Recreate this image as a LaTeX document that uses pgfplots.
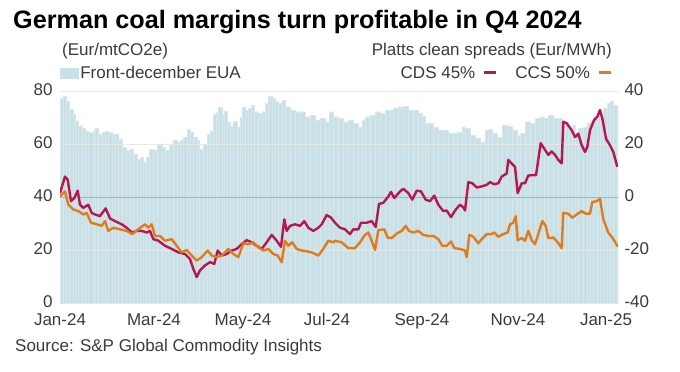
\documentclass[border=0pt]{standalone}
\usepackage{fontspec}
\setmainfont{Liberation Sans}
\usepackage{pgfplots}
\pgfplotsset{compat=1.18}
\definecolor{eua}{HTML}{C9E0E6}
\definecolor{cds}{HTML}{B5174F}
\definecolor{ccs}{HTML}{E07C1E}
\definecolor{txt}{HTML}{3A3A3A}
\definecolor{gridc}{HTML}{E6E8E8}
\definecolor{zeroc}{HTML}{A9B4B7}

% x = horizontal position along the time axis (Jan-24 ... Jan-25), left axis: EUA (Eur/mtCO2e)
\pgfplotstableread{
x y
60 77.2
63 78.2
66 76.3
69 73.1
73 71.3
75 68.8
78 66.9
82 65.9
85 65.0
88 64.4
93 65.0
95 65.9
98 63.8
102 64.4
105 64.7
108 64.4
112 63.8
115 63.8
118 61.9
122 58.7
126 57.5
130 58.1
133 56.2
137 54.3
140 54.9
143 53.0
146 54.9
149 58.1
153 57.5
157 60.0
162 58.7
165 57.5
169 59.4
173 61.3
177 60.6
180 61.3
183 62.5
187 65.7
190 64.4
193 62.5
197 61.3
199 58.1
203 60.0
207 63.8
210 65.0
213 71.3
216 71.9
218 73.8
222 71.3
224 72.5
227 68.1
230 66.7
233 68.6
237 66.5
240 70.0
242 74.1
245 72.8
248 73.4
251 74.7
254 72.2
258 71.6
262 72.2
265 75.4
268 77.9
272 77.2
275 76.0
278 75.4
282 76.6
285 74.1
290 72.8
295 72.2
300 72.2
305 70.3
310 70.9
315 69.0
320 69.6
325 68.4
329 72.2
333 70.3
338 69.6
343 68.4
348 69.0
353 67.8
358 66.5
362 69.0
365 70.3
370 70.9
375 72.2
380 71.6
385 72.8
390 72.8
393 73.4
398 74.1
403 74.3
408 72.8
413 72.8
418 71.8
422 70.5
425 67.8
428 67.8
433 66.5
438 65.3
443 65.3
448 64.2
453 64.0
457 64.6
462 66.5
465 65.9
470 63.4
475 62.1
480 60.8
485 65.3
488 65.5
492 64.0
497 62.7
502 67.2
507 66.8
512 65.3
517 63.4
520 64.0
525 68.4
530 67.8
535 69.7
540 70.3
544 69.7
548 70.9
553 69.7
558 69.7
562 68.4
565 68.4
568 66.5
572 67.2
575 64.6
578 65.9
583 66.5
587 67.8
590 68.4
593 70.3
597 71.6
600 71.6
603 73.4
607 75.4
610 76.0
613 74.7
617 73.4
618 73.4
}\euatable

% CDS 45% (Eur/MWh)
\pgfplotstableread{
x y
60 1.5
65 7.7
67.7 6.5
71 -1.6
74.3 -0.4
77.7 2.4
80 -2.9
83.3 -4.1
88.3 -2.9
91.7 -6.0
95 -6.6
100 -7.2
105.7 -4.3
110 -8.1
115 -9.1
121.7 -10.3
126.7 -11.6
131.7 -13.4
136.7 -12.8
141.7 -12.8
146.7 -13.4
150 -12.8
153.3 -15.9
158.3 -16.5
165 -18.4
171.7 -19.6
178.3 -20.9
185 -21.5
190 -23.4
193.3 -27.1
196.7 -30.2
200 -27.7
205 -25.8
210 -24.6
214.3 -25.2
217.7 -20.2
221.7 -22.1
226.7 -21.5
231.7 -20.2
236.7 -19.6
241.7 -17.8
246.7 -16.3
251.7 -17.1
256.7 -18.4
261.7 -19.6
266.7 -17.1
271.7 -14.3
276.7 -16.5
281 -18.8
284.3 -8.4
286.7 -12.8
290 -10.9
295 -10.3
300 -10.9
304.3 -9.1
308.3 -11.6
313.3 -12.8
318.3 -11.6
321.7 -10.3
326.7 -6.8
331 -7.8
335 -9.7
340 -11.6
345 -12.2
350 -14.0
353.3 -12.2
358.3 -12.2
361 -9.7
366.7 -9.7
371.7 -9.1
375.7 -11.3
379 -2.6
383.3 -2.2
388.3 0.2
391 1.9
394.3 -0.4
400 2.1
403.3 3.1
408.3 1.5
412.3 -1.0
416.7 2.4
421 2.1
425.7 -1.0
430 -1.6
434.3 0.5
438.3 -2.9
443.3 -5.3
446.7 -5.1
451 -7.6
455 -5.1
460 -2.9
463.3 -3.9
465 -5.1
468.3 5.6
472.3 5.2
476.7 3.6
481.7 4.0
486.7 4.6
490 5.6
494.3 4.8
498.3 5.2
501.7 7.7
506.7 8.9
508.3 14.0
512 12.5
515 11.4
517.7 1.5
521.7 5.2
525 5.2
528.3 8.1
533.3 8.3
536 8.2
540.7 20.3
545 17.8
548.3 15.9
551.7 17.2
555 15.9
558.3 14.0
561.7 12.7
563.3 28.4
566.7 27.8
571.7 25.2
575 22.6
578.3 23.9
581.7 19.5
585 17.0
587.3 18.9
590 25.2
594 29.0
597.3 30.3
600 32.8
602.7 29.0
606 22.0
610 19.5
613.3 17.0
617.3 11.4
}\cdstable

% CCS 50% (Eur/MWh)
\pgfplotstableread{
x y
60 0.2
65 2.1
68.3 -2.9
73.3 -4.7
78.3 -5.3
83.3 -6.6
86.7 -6.0
91 -9.7
96.7 -10.3
101.7 -10.9
105 -9.1
108.3 -12.8
113.3 -11.6
120 -12.2
126.7 -12.8
132.3 -14.0
138.3 -12.2
145 -10.3
148.3 -11.6
151.7 -10.3
155 -14.7
160 -14.7
165 -16.5
171.7 -15.9
176.7 -18.4
181.7 -20.9
186.7 -20.0
191.7 -22.1
196.7 -24.0
201.7 -22.7
207.7 -20.2
211.7 -22.1
216.7 -22.7
221.7 -22.1
228.3 -19.6
233.3 -21.5
238.3 -22.7
243.3 -17.5
248.3 -17.8
253.3 -17.1
258.3 -19.0
263.3 -20.2
268.3 -19.6
273.3 -21.5
277.7 -22.1
281.7 -24.6
285 -16.5
288.3 -18.4
292.3 -17.1
296.7 -19.6
301.7 -20.2
306.7 -20.5
311.7 -20.9
318.3 -22.1
323.3 -19.6
328.3 -16.5
333.3 -17.1
335 -16.5
341.7 -17.1
348.3 -19.3
355 -19.3
360 -17.1
365 -14.3
368.3 -13.4
371.7 -16.5
375 -20.0
378.3 -12.5
384.3 -12.2
387.7 -15.3
391.7 -15.5
396.7 -13.8
401.7 -12.8
405.7 -10.9
409 -12.8
413.3 -13.4
418.3 -12.8
423.3 -14.3
428.3 -14.7
433.3 -14.7
438.3 -15.9
442.3 -18.4
446.7 -18.4
451 -16.8
454.3 -19.3
460 -19.6
465 -20.2
466.7 -22.7
469.3 -14.3
473.3 -15.0
478.3 -17.5
481.7 -15.9
486.7 -14.0
491.7 -14.0
494.3 -13.4
498.3 -15.0
503.3 -14.0
507.7 -13.4
510 -10.3
513.3 -9.7
515.7 -7.2
517.7 -16.3
521.7 -15.5
525 -16.5
528.3 -12.8
531.7 -16.3
535 -17.8
538.3 -14.0
542.3 -9.1
545.7 -10.9
548.3 -15.5
553.3 -15.3
557.7 -17.1
561.7 -19.3
563.3 -6.0
568.3 -6.3
572.3 -7.8
576.7 -6.6
581.7 -5.3
585.7 -6.3
590 -6.3
592.3 -1.9
596.7 -1.6
600 -0.7
603.3 -8.4
608.3 -13.4
612.3 -15.3
618 -18.8
}\ccstable

\begin{document}
\begin{tikzpicture}[font=\fontsize{17}{20}\selectfont]
\useasboundingbox (0,0) rectangle (680pt,372pt);

\node[anchor=base west, inner sep=0pt, font=\fontsize{25.2}{28}\selectfont\bfseries, text=black] at (13pt,343pt) {German coal margins turn profitable in Q4 2024};
\node[anchor=base west, inner sep=0pt, text=txt] at (62pt,316pt) {(Eur/mtCO2e)};
\node[anchor=base east, inner sep=0pt, text=txt] at (612pt,316pt) {Platts clean spreads (Eur/MWh)};
\node[anchor=base west, inner sep=0pt, text=txt] at (15pt,20pt) {Source: S\&P Global Commodity Insights};

\begin{axis}[
  at={(60pt,69pt)}, anchor=south west,
  scale only axis, width=558pt, height=212pt,
  xmin=60, xmax=618, ymin=0, ymax=80,
  axis on top,
  axis line style={draw=none},
  major tick length=0pt,
  xtick={60,154,243,327,422,518,606},
  xticklabels={Jan-24,Mar-24,May-24,Jul-24,Sep-24,Nov-24,Jan-25},
  ytick={0,20,40,60,80},
  yticklabels={0,20,40,60,80},
  ymajorgrids,
  major grid style={gridc, line width=0.8pt},
  extra y ticks={40},
  extra y tick labels={},
  extra y tick style={grid=major, major grid style={zeroc, line width=0.9pt}},
  tick label style={font=\fontsize{17}{20}\selectfont, text=txt},
  yticklabel style={xshift=-4pt, yshift=1pt},
  xticklabel style={yshift=-7pt},
  legend style={at={(axis description cs:0,1.085)}, anchor=west, draw=none, fill=none, inner sep=0pt, outer sep=0pt, font=\fontsize{17}{20}\selectfont, text=txt},
  legend cell align=left,
]
\addplot[ybar interval, fill=eua, draw=white!25!eua, line width=0.25pt,
  legend image code/.code={\fill[eua] (0pt,-5pt) rectangle (18pt,5pt);}] table {\euatable};
\addlegendentry{Front-december EUA}
\end{axis}

\begin{axis}[
  at={(60pt,69pt)}, anchor=south west,
  scale only axis, width=558pt, height=212pt,
  xmin=60, xmax=618, ymin=-40, ymax=40,
  axis y line*=right, hide x axis,
  axis line style={draw=none},
  major tick length=0pt,
  ytick={-40,-20,0,20,40},
  yticklabels={-40,-20,0,20,40},
  tick label style={font=\fontsize{17}{20}\selectfont, text=txt},
  yticklabel style={xshift=3pt, yshift=1pt},
  legend style={at={(axis description cs:1,1.085)}, anchor=east, xshift=-6pt, draw=none, fill=none, inner sep=0pt, outer sep=0pt, font=\fontsize{17}{20}\selectfont, text=txt,
    /tikz/every odd column/.append style={column sep=5pt},
    /tikz/every even column/.append style={column sep=16pt}},
  legend columns=2,
  legend plot pos=right,
  legend image code/.code={\draw[line width=3pt] (0pt,0pt) -- (12pt,0pt);},
]
\addplot[cds, line width=2.4pt, line join=round] table {\cdstable};
\addlegendentry{CDS 45\%}
\addplot[ccs, line width=2.4pt, line join=round] table {\ccstable};
\addlegendentry{CCS 50\%}
\end{axis}
\end{tikzpicture}
\end{document}
